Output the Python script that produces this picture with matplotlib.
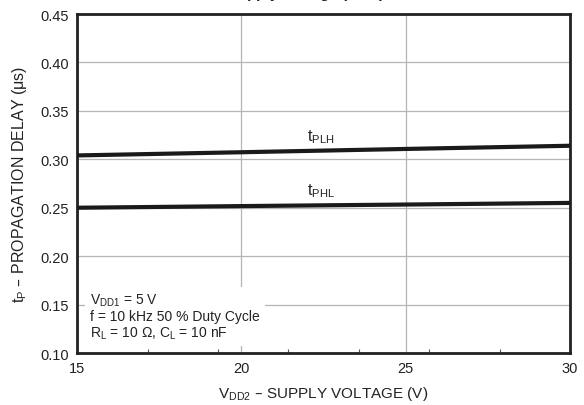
import numpy as np
import matplotlib
matplotlib.use("Agg")
import matplotlib.pyplot as plt

plt.rcParams['font.family'] = ['Liberation Sans', 'DejaVu Sans']
plt.rcParams['mathtext.default'] = 'regular'

# data
voltage = [15, 20, 25, 30]
t_plh = [0.304, 0.3073, 0.3107, 0.314]
t_phl = [0.250, 0.2517, 0.2533, 0.255]

x_ticks = [15, 20, 25, 30]
y_ticks = [0.10, 0.15, 0.20, 0.25, 0.30, 0.35, 0.40, 0.45]

fig = plt.figure(figsize=(5.84, 4.06), dpi=100)
ax = fig.add_axes([0.132, 0.128, 0.844, 0.835])

ax.plot(voltage, t_plh, color='#1a1a1a', lw=3.0, solid_capstyle='butt', zorder=3)
ax.plot(voltage, t_phl, color='#1a1a1a', lw=3.0, solid_capstyle='butt', zorder=3)

ax.set_xlim(15, 30)
ax.set_ylim(0.10, 0.45)
ax.set_xticks(x_ticks)
ax.set_yticks(y_ticks)
ax.set_yticklabels([f'{v:.2f}' for v in y_ticks])
ax.set_xticks(np.linspace(15, 30, 8), minor=True)
ax.tick_params(axis='both', which='major', length=0, labelsize=10.5, colors='#222222', pad=6)
ax.tick_params(axis='x', which='minor', direction='in', length=3, width=0.8, color='#555555')
ax.grid(True, which='major', color='#b5b5b5', lw=0.9)
for s in ax.spines.values():
    s.set_linewidth(2.0)
    s.set_color('#222222')

ax.text(22.0, 0.320, 't$_{PLH}$', fontsize=11.5, color='#222222')
ax.text(22.0, 0.264, 't$_{PHL}$', fontsize=11.5, color='#222222')

ax.text(15.4, 0.1125,
        'V$_{DD1}$ = 5 V\nf = 10 kHz 50 % Duty Cycle\nR$_L$ = 10 \u03a9, C$_L$ = 10 nF',
        fontsize=10, color='#222222', linespacing=1.1, va='bottom', ha='left',
        bbox=dict(facecolor='white', edgecolor='none', pad=3.5), zorder=4)

ax.set_xlabel('V$_{DD2}$ \u2013 SUPPLY VOLTAGE (V)', fontsize=11, color='#222222', labelpad=6)
ax.set_ylabel('t$_P$ \u2013 PROPAGATION DELAY (\u03bcs)', fontsize=11.5, color='#222222', labelpad=8)

# title is cut off by the top edge in the reference
fig.text(0.524, 1.0 + 1.5 / 406, 'Supply Voltage (V$_{DD2}$)', fontsize=11,
         fontweight='bold', ha='center', va='baseline', color='#222222')

fig.savefig('out.png', dpi=100)
